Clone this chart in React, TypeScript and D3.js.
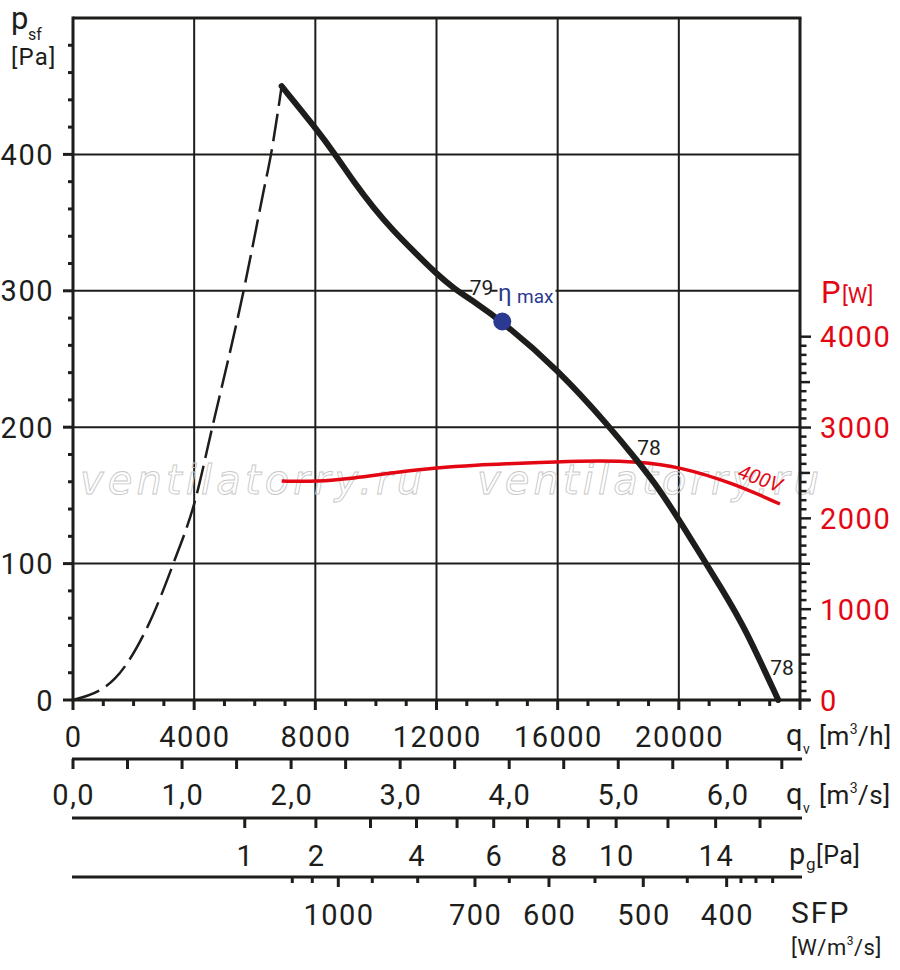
import React from "react";
import * as d3 from "d3";

// ---- data ----
const pressureQ = [6888, 7988, 8704, 9253, 9913, 10573, 11233, 12006, 12610, 13105, 14172, 16020, 17726, 18607, 19377, 20037, 21579, 22183, 23283];
const pressureP = [450, 420, 398.5, 380.3, 361, 344, 329.3, 312.2, 301.2, 294, 277.5, 242, 200, 176, 154, 131, 75.8, 52.6, 0];

const stallQ = [0, 1386, 2486, 3311, 4027, 4578, 5622, 6282, 6536, 6888];
const stallP = [0, 15.8, 54.9, 100, 146, 198, 299, 372, 400, 450];

const powerQ = [6888, 8043, 9253, 10574, 12005, 13436, 14095, 16020, 17396, 18607, 20037, 21797, 23338];
const powerW = [2411, 2404, 2441, 2503, 2558, 2588, 2598, 2624, 2635, 2624, 2569, 2386, 2158];

const etaMaxQ = 14172;
const etaMaxP = 277.5;

const leftLabels = [0, 100, 200, 300, 400];
const rightLabels = [0, 1000, 2000, 3000, 4000];
const qHourLabels = [0, 4000, 8000, 12000, 16000, 20000];
const qSecLabels = [0, 1, 2, 3, 4, 5, 6];
const pgTicks = [1, 2, 3, 4, 5, 6, 7, 8, 9, 10, 12, 14, 16];
const pgLabels = [1, 2, 4, 6, 8, 10, 14];
const PG_Q_AT_1PA = 5670; // m3/h giving 1 Pa dynamic pressure
const sfpTickQ = [7239, 7899, 8758, 9880, 11379, 13270, 14403, 15713, 17232, 18826, 20279, 21579, 22051, 22546, 23097];
const sfpTickMajor = [0, 0, 1, 0, 0, 1, 0, 1, 0, 1, 0, 1, 0, 0, 0];
const sfpLabelQ = [8758, 13270, 15713, 18826, 21579];
const sfpLabels = ["1000", "700", "600", "500", "400"];

// ---- layout ----
const W = 900, H = 970;
const X0 = 73, X1 = 800, Y0 = 700, Y1 = 18;
const BLACK = "#1d1d1b";
const RED = "#e30613";
const BLUE = "#2b3990";
const FONT = "Roboto, 'DejaVu Sans', sans-serif";

const x = d3.scaleLinear().domain([0, 24000]).range([X0, X1]);
const y = d3.scaleLinear().domain([0, 500]).range([Y0, Y1]);
const yP = d3.scaleLinear().domain([0, 4000]).range([Y0, 336.7]);

export default function App() {
  const lineP = d3.line<number>().x((d, i) => x(pressureQ[i])).y((d) => y(d)).curve(d3.curveBasis);
  const lineS = d3.line<number>().x((d, i) => x(stallQ[i])).y((d) => y(d)).curve(d3.curveMonotoneX);
  const lineW = d3.line<number>().x((d, i) => x(powerQ[i])).y((d) => yP(d)).curve(d3.curveBasis);

  const yMinor = d3.range(0, 500, 20);
  const xMinor = d3.range(0, 24001, 1000);
  const pMinor = d3.range(0, 4001, 100);
  const qsTicks = d3.range(0, 6.51, 0.5);

  const ySec = 759, yPg = 818, ySfp = 877;
  const fmtComma = (v: number) => v.toFixed(1).replace(".", ",");

  const lab = { fontFamily: FONT, fontSize: 29, letterSpacing: 1.5, fill: BLACK } as const;

  return (
    <svg width={W} height={H} style={{ position: "absolute", left: 0, top: 0, background: "#fff" }}>
      <rect x={0} y={0} width={W} height={H} fill="#fff" />
      {/* grid */}
      {[4000, 8000, 12000, 16000, 20000].map((q) => (
        <line key={"gv" + q} x1={x(q)} x2={x(q)} y1={Y1} y2={Y0} stroke={BLACK} strokeWidth={2} />
      ))}
      {[100, 200, 300, 400].map((p) => (
        <line key={"gh" + p} x1={X0} x2={X1} y1={y(p)} y2={y(p)} stroke={BLACK} strokeWidth={2} />
      ))}
      {/* watermark */}
      {[80, 477].map((wx) => (
        <text key={"wm" + wx} x={wx} y={494} textLength={342} lengthAdjust="spacing"
          fontFamily="'DejaVu Sans', Verdana, sans-serif" fontStyle="italic" fontSize={40}
          fill="none" stroke="#c8c8c8" strokeWidth={0.9}>ventilatorry.ru</text>
      ))}
      {/* label backgrounds */}
      <rect x={472.5} y={279} width={17.5} height={20} fill="#fff" />
      <rect x={497.5} y={279} width={58} height={22} fill="#fff" />
      {/* frame */}
      <line x1={X0} x2={X1 + 1.5} y1={Y1} y2={Y1} stroke={BLACK} strokeWidth={3} />
      <line x1={X0} x2={X0} y1={Y1 - 1.5} y2={Y0} stroke={BLACK} strokeWidth={3} />
      <line x1={X1} x2={X1} y1={Y1} y2={Y0} stroke={BLACK} strokeWidth={3} />
      <line x1={X0} x2={810} y1={Y0} y2={Y0} stroke={BLACK} strokeWidth={3} />
      {/* left ticks */}
      {yMinor.map((p) => (
        <line key={"yt" + p} x1={p % 100 === 0 ? 63 : 68} x2={X0} y1={y(p)} y2={y(p)} stroke={BLACK} strokeWidth={3} />
      ))}
      {leftLabels.map((p) => (
        <text key={"yl" + p} x={54} y={y(p) + 10.5} textAnchor="end" {...lab}>{p}</text>
      ))}
      {/* right power axis */}
      {pMinor.map((w) => (
        <line key={"pt" + w} x1={X1} x2={w % 1000 === 0 ? 811 : w % 500 === 0 ? 810 : 806.5} y1={yP(w)} y2={yP(w)} stroke={BLACK} strokeWidth={2.5} />
      ))}
      {rightLabels.map((w) => (
        <text key={"pl" + w} x={820} y={yP(w) + 10.5} {...lab} fill={RED}>{w}</text>
      ))}
      <text x={821} y={303} fontFamily={FONT} fontSize={31} fill={RED}>P</text>
      <text x={842} y={303} fontFamily={FONT} fontSize={22} fill={RED}>[W]</text>
      {/* left title */}
      <text x={11} y={29} fontFamily={FONT} fontSize={31} fill={BLACK}>p</text>
      <text x={28} y={40} fontFamily={FONT} fontSize={16} fill={BLACK}>sf</text>
      <text x={11} y={65} fontFamily={FONT} fontSize={24} letterSpacing={1.2} fill={BLACK}>[Pa]</text>

      {/* bottom q m3/h */}
      {xMinor.map((q) => (
        <line key={"xt" + q} x1={x(q)} x2={x(q)} y1={Y0} y2={q % 4000 === 0 ? 710 : 706} stroke={BLACK} strokeWidth={3} />
      ))}
      {qHourLabels.map((q) => (
        <text key={"xl" + q} x={x(q) + 0.75} y={747} textAnchor="middle" {...lab}>{q}</text>
      ))}
      <text x={786} y={745} fontFamily={FONT} fontSize={29} fill={BLACK}>q</text>
      <text x={803} y={754} fontFamily={FONT} fontSize={14} fill={BLACK}>v</text>
      <text x={819} y={745} fontFamily={FONT} fontSize={26} letterSpacing={0.5} fill={BLACK}>[m<tspan fontSize={14} dy={-11}>3</tspan><tspan dy={11}>/h]</tspan></text>

      {/* q m3/s */}
      <line x1={X0 - 1} x2={802} y1={ySec} y2={ySec} stroke={BLACK} strokeWidth={3} />
      {qsTicks.map((s) => (
        <line key={"st" + s} x1={x(s * 3600)} x2={x(s * 3600)} y1={ySec} y2={ySec + 10} stroke={BLACK} strokeWidth={3} />
      ))}
      {qSecLabels.map((s) => (
        <text key={"sl" + s} x={x(s * 3600) + 0.75} y={805} textAnchor="middle" {...lab}>{fmtComma(s)}</text>
      ))}
      <text x={786} y={804} fontFamily={FONT} fontSize={29} fill={BLACK}>q</text>
      <text x={803} y={813} fontFamily={FONT} fontSize={14} fill={BLACK}>v</text>
      <text x={819} y={804} fontFamily={FONT} fontSize={26} letterSpacing={0.5} fill={BLACK}>[m<tspan fontSize={14} dy={-11}>3</tspan><tspan dy={11}>/s]</tspan></text>

      {/* p_g */}
      <line x1={X0 - 1} x2={802} y1={yPg} y2={yPg} stroke={BLACK} strokeWidth={3} />
      {pgTicks.map((p) => (
        <line key={"gt" + p} x1={x(PG_Q_AT_1PA * Math.sqrt(p))} x2={x(PG_Q_AT_1PA * Math.sqrt(p))} y1={yPg} y2={yPg + 10} stroke={BLACK} strokeWidth={3} />
      ))}
      {pgLabels.map((p) => (
        <text key={"gl" + p} x={x(PG_Q_AT_1PA * Math.sqrt(p)) + 0.75} y={866} textAnchor="middle" {...lab}>{p}</text>
      ))}
      <text x={789} y={864} fontFamily={FONT} fontSize={29} fill={BLACK}>p</text>
      <text x={806} y={870} fontFamily={FONT} fontSize={17} fill={BLACK}>g</text>
      <text x={816} y={864} fontFamily={FONT} fontSize={25} letterSpacing={0.5} fill={BLACK}>[Pa]</text>

      {/* SFP */}
      <line x1={X0 - 1} x2={802} y1={ySfp} y2={ySfp} stroke={BLACK} strokeWidth={3} />
      {sfpTickQ.map((q, i) => (
        <line key={"ft" + i} x1={x(q)} x2={x(q)} y1={ySfp} y2={sfpTickMajor[i] ? ySfp + 10 : ySfp + 6} stroke={BLACK} strokeWidth={3} />
      ))}
      {sfpLabels.map((s, i) => (
        <text key={"fl" + i} x={x(sfpLabelQ[i]) + 0.75} y={925} textAnchor="middle" {...lab}>{s}</text>
      ))}
      <text x={791} y={923} fontFamily={FONT} fontSize={30} letterSpacing={2} fill={BLACK}>SFP</text>
      <text x={791} y={955} fontFamily={FONT} fontSize={22} letterSpacing={0.5} fill={BLACK}>[W/m<tspan fontSize={12} dy={-10}>3</tspan><tspan dy={10}>/s]</tspan></text>

      {/* curves */}
      <path d={lineS(stallP) || ""} fill="none" stroke={BLACK} strokeWidth={2.5} strokeDasharray="28 8" />
      <path d={lineW(powerW) || ""} fill="none" stroke={RED} strokeWidth={3.5} strokeLinecap="butt" />
      <path d={lineP(pressureP) || ""} fill="none" stroke={BLACK} strokeWidth={6} strokeLinecap="round" strokeLinejoin="round" />

      {/* annotations */}
      <text x={481.5} y={295} textAnchor="middle" fontFamily={FONT} fontSize={21} fill={BLACK}>79</text>
      <text x={498} y={301} fontFamily={FONT} fontSize={24} fill={BLUE}>η</text>
      <text x={517} y={303} fontFamily={FONT} fontSize={19} fill={BLUE}>max</text>
      <circle cx={x(etaMaxQ)} cy={y(etaMaxP)} r={9} fill={BLUE} />
      <text x={649} y={454.5} textAnchor="middle" fontFamily={FONT} fontSize={21} fill={BLACK}>78</text>
      <text x={782} y={674.5} textAnchor="middle" fontFamily={FONT} fontSize={21} fill={BLACK}>78</text>
      <text x={0} y={0} textAnchor="middle" fontFamily={FONT} fontSize={20} fontStyle="italic" fill={RED}
        transform="translate(758,485) rotate(20)">400V</text>
    </svg>
  );
}
